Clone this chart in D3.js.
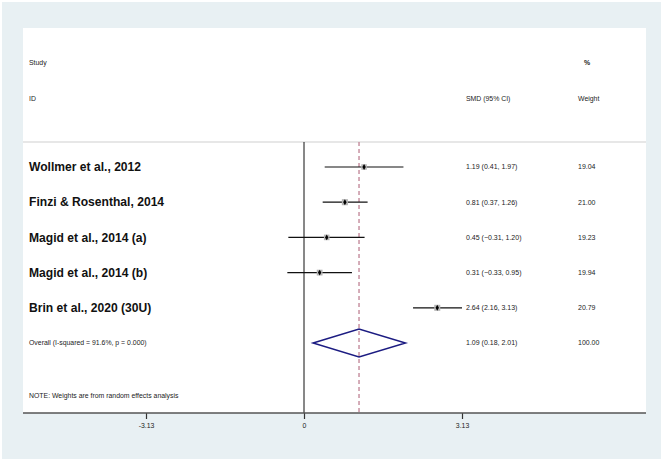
<!DOCTYPE html>
<html>
<head>
<meta charset="utf-8">
<script src="https://cdn.jsdelivr.net/npm/d3@7"></script>
<style>
  html, body { margin: 0; padding: 0; background: #ffffff; }
  svg { display: block; }
</style>
</head>
<body>
<svg id="chart" width="664" height="462"></svg>
<script>
const studies = ["Wollmer et al., 2012", "Finzi & Rosenthal, 2014", "Magid et al., 2014 (a)", "Magid et al., 2014 (b)", "Brin et al., 2020 (30U)"];
const smd = [1.19, 0.81, 0.45, 0.31, 2.64];
const lower = [0.41, 0.37, -0.31, -0.33, 2.16];
const upper = [1.97, 1.26, 1.20, 0.95, 3.13];
const weights = [19.04, 21.00, 19.23, 19.94, 20.79];
const overallLabel = "Overall  (I-squared = 91.6%, p = 0.000)";
const overallEst = 1.09, overallLo = 0.18, overallHi = 2.01, overallWeight = 100.00;
const tickValues = [-3.13, 0, 3.13];
const tickLabels = ["-3.13", "0", "3.13"];

(function () {
const svg = d3.select("#chart");
const font = "'Liberation Sans', Arial, sans-serif";

// background
svg.append("rect").attr("x", 2).attr("y", 2).attr("width", 659).attr("height", 457).attr("fill", "#e8f0f3");
svg.append("rect").attr("x", 23).attr("y", 28).attr("width", 623).attr("height", 385).attr("fill", "#ffffff");

const x = d3.scaleLinear().domain([-3.13, 3.13]).range([146, 462]);
const rows = [...studies, "Overall"];
const y = d3.scalePoint().domain(rows).range([167, 343]);
const yTop = 142, yBottom = 413;

const small = 6.9;
function txt(xp, yp, s, opts = {}) {
  return svg.append("text").attr("x", xp).attr("y", yp).attr("dy", "0.35em")
    .attr("font-family", font).attr("font-size", opts.size || small)
    .attr("font-weight", opts.weight || "normal")
    .attr("fill", opts.fill || "#222").text(s);
}
txt(29, 63, "Study");
txt(29, 99, "ID");
txt(466, 99, "SMD  (95% CI)");
txt(584, 63, "%", {weight: "bold"});
txt(578, 99, "Weight");

svg.append("line").attr("x1", 23).attr("x2", 646).attr("y1", yTop).attr("y2", yTop)
  .attr("stroke", "#cfcfcf").attr("stroke-width", 1);

// zero line
svg.append("line").attr("x1", x(0)).attr("x2", x(0)).attr("y1", yTop).attr("y2", yBottom)
  .attr("stroke", "#111").attr("stroke-width", 1);
// overall dashed line
svg.append("line").attr("x1", x(overallEst)).attr("x2", x(overallEst)).attr("y1", yTop).attr("y2", yBottom)
  .attr("stroke", "#c48a9b").attr("stroke-width", 1.4).attr("stroke-dasharray", "4,3");

const fmt = d3.format(".2f");
studies.forEach((s, i) => {
  const yy = y(s);
  txt(29, yy, s, {size: 12.1, weight: "bold", fill: "#111"});
  svg.append("line").attr("x1", x(lower[i])).attr("x2", x(upper[i])).attr("y1", yy).attr("y2", yy)
    .attr("stroke", "#111").attr("stroke-width", 1.2);
  const side = weights[i] * 0.29;
  svg.append("rect").attr("x", x(smd[i]) - side / 2).attr("y", yy - side / 2)
    .attr("width", side).attr("height", side).attr("fill", "#b5b5b5");
  svg.append("path").attr("d", d3.symbol(d3.symbolDiamond, 10)())
    .attr("transform", `translate(${x(smd[i])},${yy})`).attr("fill", "#000");
  txt(466, yy, `${fmt(smd[i])} (${fmt(lower[i])}, ${fmt(upper[i])})`, {size: 7});
  txt(578, yy, fmt(weights[i]), {size: 7});
});

const yo = y("Overall");
txt(29, yo, overallLabel, {size: 6.9});
const dh = 14;
svg.append("path")
  .attr("d", `M${x(overallLo)},${yo} L${x(overallEst)},${yo - dh} L${x(overallHi)},${yo} L${x(overallEst)},${yo + dh} Z`)
  .attr("fill", "none").attr("stroke", "#1c1c82").attr("stroke-width", 1.5);
txt(466, yo, `${fmt(overallEst)} (${fmt(overallLo)}, ${fmt(overallHi)})`, {size: 7});
txt(578, yo, fmt(overallWeight), {size: 7});

txt(29, 396, "NOTE:  Weights are from random effects analysis", {size: 6.9});

const axis = d3.axisBottom(x).tickValues(tickValues).tickFormat((d, i) => tickLabels[i]).tickSize(6).tickSizeOuter(0);
const g = svg.append("g").attr("transform", `translate(0,${yBottom})`).call(axis);
g.select(".domain").remove();
g.append("line").attr("x1", 23).attr("x2", 646).attr("y1", 0).attr("y2", 0)
  .attr("stroke", "#555").attr("stroke-width", 1.6);
g.selectAll(".tick line").attr("stroke", "#333").attr("stroke-width", 1.2);
g.selectAll(".tick text").attr("font-family", font).attr("font-size", 6.9).attr("fill", "#222").attr("y", 10);
})();
</script>
</body>
</html>
